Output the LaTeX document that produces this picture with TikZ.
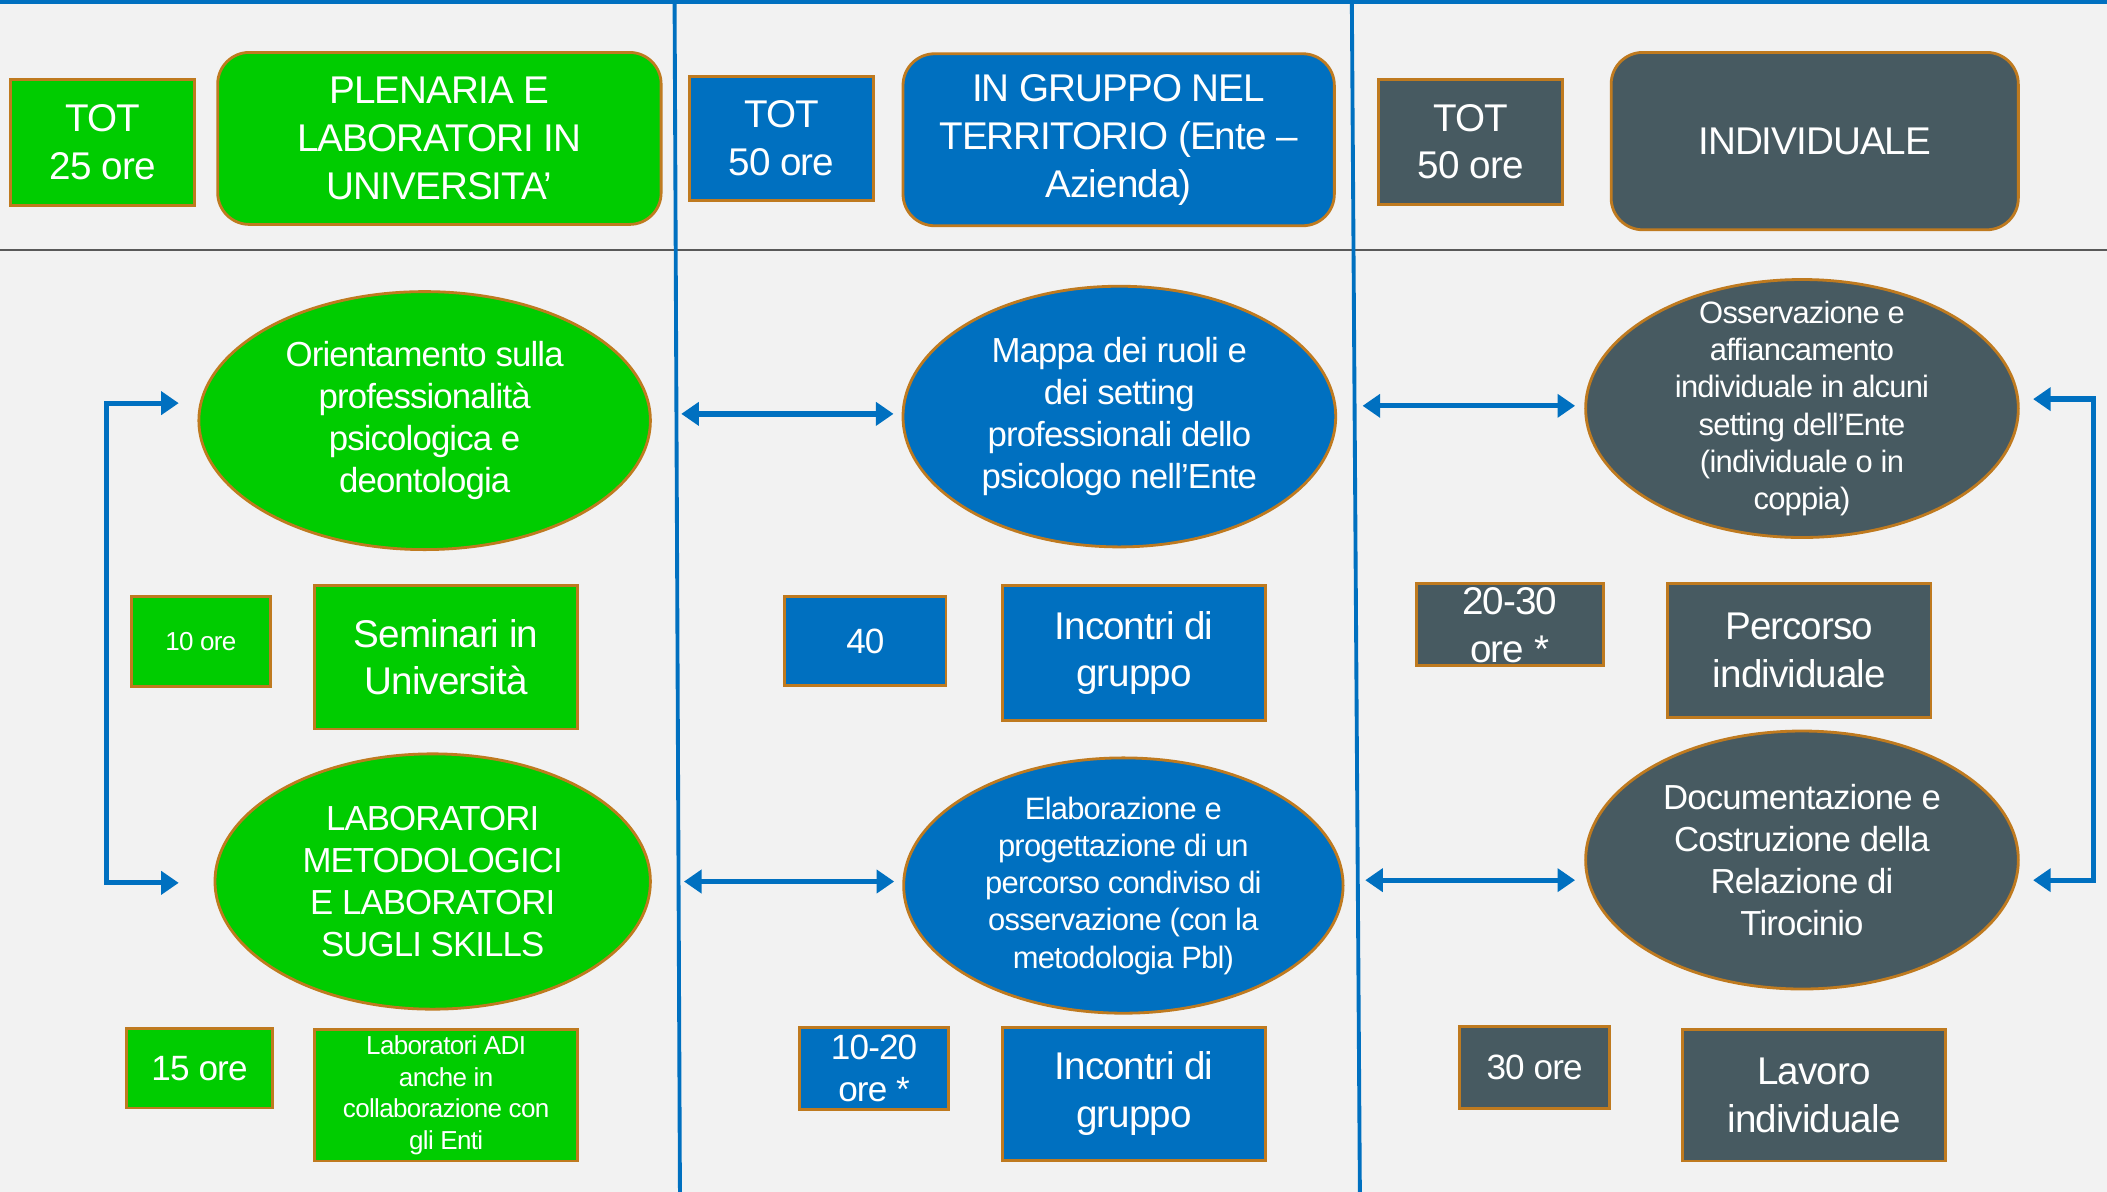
\documentclass[tikz,border=0pt]{standalone}
\usepackage{fontspec}
\setmainfont{Liberation Sans}[LetterSpace=-2.5]
\usepackage{xcolor}
\usepackage{tikz}
\usetikzlibrary{shapes.geometric,arrows.meta}
\definecolor{grn}{HTML}{00CC00}
\definecolor{blu}{HTML}{0070C0}
\definecolor{sla}{HTML}{475A61}
\definecolor{brd}{HTML}{BF7A1F}
\definecolor{bg}{HTML}{F2F2F2}
\definecolor{lin}{HTML}{595959}
\newcommand\pu{0.013437cm}
\newcommand\tbig{\fontsize{11}{13.6}\selectfont}
\newcommand\tore{\fontsize{10}{11.8}\selectfont}
\newcommand\tmid{\fontsize{9.9}{12}\selectfont}
\newcommand\tsma{\fontsize{8.8}{10.6}\selectfont}
\newcommand\ttin{\fontsize{7.4}{9}\selectfont}

\tikzset{
  box/.style={draw=brd, line width=0.8pt, text=white, align=center, inner xsep=0pt, inner ysep=-3pt, font=\tbig},
  head/.style={box, rounded corners=9pt},
  oval/.style={ellipse, draw=brd, line width=0.8pt, text=white, align=center, inner sep=-8pt, font=\tmid},
  sz/.style 2 args={minimum width=#1*\pu, minimum height=#2*\pu},
  link/.style={draw=blu, line width=1.5pt, {Triangle[length=5pt,width=6.5pt]}-{Triangle[length=5pt,width=6.5pt]}},
  wall/.style={draw=blu, line width=1.1pt}
}

\begin{document}
\begin{tikzpicture}[x=\pu, y=-\pu]
      \useasboundingbox[fill=bg] (0,0) rectangle (1568,887);

      \coordinate (TotA) at (76.5,106);
      \coordinate (HeadA) at (327,103);
      \coordinate (TotB) at (581.5,103);
      \coordinate (HeadB) at (832.5,104);
      \coordinate (TotC) at (1094.5,105.5);
      \coordinate (HeadC) at (1350.5,105);

      \coordinate (OrA) at (316,313);
      \coordinate (HrA) at (149.5,477.5);
      \coordinate (SemA) at (332,489);
      \coordinate (LabA) at (322,656);
      \coordinate (HrAp) at (148.5,795);
      \coordinate (AdiA) at (332,815);

      \coordinate (MapB) at (833,310);
      \coordinate (HrB) at (644,477);
      \coordinate (IncB) at (844,486);
      \coordinate (ElaB) at (836,659);
      \coordinate (HrBp) at (650.5,795);
      \coordinate (IncBp) at (844,814);

      \coordinate (OssC) at (1341,304);
      \coordinate (HrC) at (1123.5,465);
      \coordinate (PerC) at (1339,484);
      \coordinate (DocC) at (1341,640);
      \coordinate (HrCp) at (1142,794.5);
      \coordinate (LavC) at (1350,815);

      \coordinate (Lt) at (133,300);
      \coordinate (Ltc) at (79,300);
      \coordinate (Lbc) at (79,657);
      \coordinate (Lb) at (133,657);
      \coordinate (Rt) at (1513,297);
      \coordinate (Rtc) at (1558,297);
      \coordinate (Rbc) at (1558,655);
      \coordinate (Rb) at (1513,655);

      \coordinate (Ma) at (507,308);
      \coordinate (Mb) at (509,656);
      \coordinate (Na) at (1014,302);
      \coordinate (Nb) at (1016,655);

      \draw[wall] (0,1.5) -- (1568,1.5);
      \draw[draw=lin, line width=0.5pt] (0,186) -- (1568,186);
      \draw[wall] (502,0) -- (506,887);
      \draw[wall] (1006,0) -- (1012,887);

      \node[box, fill=grn, sz={137}{94}] (totA) at (TotA) {TOT\\25 ore};
      \node[head, fill=grn, sz={330}{128}] (headA) at (HeadA) {PLENARIA E\\LABORATORI IN\\UNIVERSITA’};
      \node[box, fill=blu, sz={137}{92}] (totB) at (TotB) {TOT\\50 ore};
      \node[head, fill=blu, sz={321}{128}] (headB) at (HeadB) {IN GRUPPO NEL\\TERRITORIO (Ente –\\Azienda)};
      \node[box, fill=sla, sz={137}{93}] (totC) at (TotC) {TOT\\50 ore};
      \node[head, fill=sla, sz={303}{132}] (headC) at (HeadC) {INDIVIDUALE};

      \node[oval, fill=grn, sz={336}{192}] (orient) at (OrA) {Orientamento sulla\\professionalità\\psicologica e\\deontologia};
      \node[box, fill=grn, sz={103}{67}, font=\ttin] (ore10) at (HrA) {10 ore};
      \node[box, fill=grn, sz={196}{107}] (semin) at (SemA) {Seminari in\\Università};
      \node[oval, fill=grn, sz={324}{190}] (labmet) at (LabA) {LABORATORI\\METODOLOGICI\\E LABORATORI\\SUGLI SKILLS};
      \node[box, fill=grn, sz={109}{59}, font=\tore] (ore15) at (HrAp) {15 ore};
      \node[box, fill=grn, sz={196}{98}, font=\ttin] (labadi) at (AdiA) {Laboratori ADI\\anche in\\collaborazione con\\gli Enti};

      \node[oval, fill=blu, sz={322}{194}] (mappa) at (MapB) {Mappa dei ruoli e\\dei setting\\professionali dello\\psicologo nell’Ente};
      \node[box, fill=blu, sz={120}{66}, font=\tore] (ore40) at (HrB) {40};
      \node[box, fill=blu, sz={196}{100}] (incA) at (IncB) {Incontri di\\gruppo};
      \node[oval, fill=blu, sz={327}{190}, font=\tsma] (elab) at (ElaB) {Elaborazione e\\progettazione di un\\percorso condiviso di\\osservazione (con la\\metodologia Pbl)};
      \node[box, fill=blu, sz={111}{61}, font=\tore] (ore1020) at (HrBp) {10-20\\ore *};
      \node[box, fill=blu, sz={196}{99}] (incB) at (IncBp) {Incontri di\\gruppo};

      \node[oval, fill=sla, sz={322}{192}, font=\tsma] (osserv) at (OssC) {Osservazione e\\affiancamento\\individuale in alcuni\\setting dell’Ente\\(individuale o in\\coppia)};
      \node[box, fill=sla, sz={139}{61}] (ore2030) at (HrC) {20-30\\ore *};
      \node[box, fill=sla, sz={196}{100}] (percor) at (PerC) {Percorso\\individuale};
      \node[oval, fill=sla, sz={322}{192}] (docum) at (DocC) {Documentazione e\\Costruzione della\\Relazione di\\Tirocinio};
      \node[box, fill=sla, sz={112}{61}, font=\tore] (ore30) at (HrCp) {30 ore};
      \node[box, fill=sla, sz={196}{98}] (lavoro) at (LavC) {Lavoro\\individuale};

      \draw[link] (Lt) -- (Ltc) -- (Lbc) -- (Lb);
      \draw[link] (Rt) -- (Rtc) -- (Rbc) -- (Rb);

      \draw[link, shorten >=2.3pt] (Ma) -- (Ma -| mappa.west);
      \draw[link, shorten >=2.3pt] (Mb) -- (Mb -| elab.west);
      \draw[link, shorten >=2.6pt] (Na) -- (Na -| osserv.west);
      \draw[link, shorten >=2.6pt] (Nb) -- (Nb -| docum.west);
\end{tikzpicture}
\end{document}
